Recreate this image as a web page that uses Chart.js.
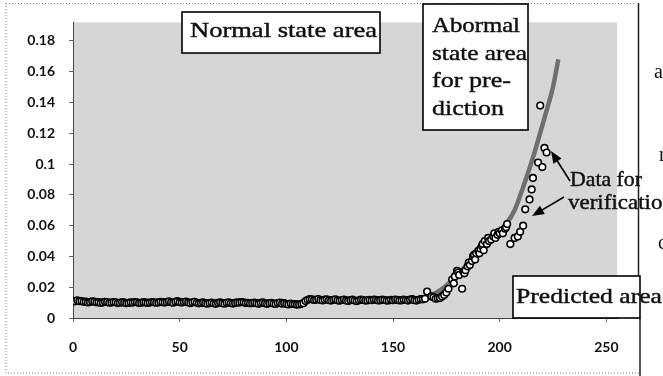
<!DOCTYPE html>
<html>
<head>
<meta charset="utf-8">
<script src="https://cdn.jsdelivr.net/npm/chart.js@4/dist/chart.umd.min.js"></script>
<style>
  html, body { margin: 0; padding: 0; background: #fff; }
  canvas { display: block; }
</style>
</head>
<body>
<canvas id="trendChart" width="663" height="376"></canvas>
<script>
// tick labels
const xTicks = [0, 50, 100, 150, 200, 250];
const yTicks = [0, 0.02, 0.04, 0.06, 0.08, 0.1, 0.12, 0.14, 0.16, 0.18];

// measured data, normal state (flat part)
const normalX = [0, 1, 2, 3, 4, 5, 6, 7, 8, 9, 10, 11, 12, 13, 14, 15, 16, 17, 18, 19,
  20, 21, 22, 23, 24, 25, 26, 27, 28, 29, 30, 31, 32, 33, 34, 35, 36, 37, 38, 39,
  40, 41, 42, 43, 44, 45, 46, 47, 48, 49, 50, 51, 52, 53, 54, 55, 56, 57, 58, 59,
  60, 61, 62, 63, 64, 65, 66, 67, 68, 69, 70, 71, 72, 73, 74, 75, 76, 77, 78, 79,
  80, 81, 82, 83, 84, 85, 86, 87, 88, 89, 90, 91, 92, 93, 94, 95, 96, 97, 98, 99,
  100, 101, 102, 103, 104, 105, 106, 107, 108, 109, 110, 111, 112, 113, 114, 115, 116, 117, 118, 119,
  120, 121, 122, 123, 124, 125, 126, 127, 128, 129, 130, 131, 132, 133, 134, 135, 136, 137, 138, 139,
  140, 141, 142, 143, 144, 145, 146, 147, 148, 149, 150, 151, 152, 153, 154, 155, 156, 157, 158, 159,
  160, 161, 162, 163, 164, 165];
const normalY = [0.0112, 0.0108, 0.0115, 0.0109, 0.0110, 0.0105, 0.0106, 0.0101, 0.0104, 0.0108,
  0.0107, 0.0102, 0.0103, 0.0098, 0.0101, 0.0105, 0.0104, 0.0099, 0.0100, 0.0104,
  0.0102, 0.0097, 0.0099, 0.0103, 0.0101, 0.0096, 0.0098, 0.0102, 0.0100, 0.0104,
  0.0102, 0.0097, 0.0099, 0.0103, 0.0101, 0.0098, 0.0100, 0.0104, 0.0102, 0.0099,
  0.0101, 0.0105, 0.0103, 0.0100, 0.0104, 0.0108, 0.0102, 0.0099, 0.0105, 0.0109,
  0.0103, 0.0100, 0.0104, 0.0107, 0.0101, 0.0097, 0.0102, 0.0105, 0.0099, 0.0095,
  0.0098, 0.0101, 0.0096, 0.0093, 0.0097, 0.0100, 0.0095, 0.0092, 0.0098, 0.0101,
  0.0096, 0.0093, 0.0099, 0.0102, 0.0097, 0.0094, 0.0098, 0.0101, 0.0100, 0.0104,
  0.0102, 0.0098, 0.0099, 0.0095, 0.0097, 0.0100, 0.0096, 0.0092, 0.0098, 0.0101,
  0.0095, 0.0092, 0.0096, 0.0099, 0.0094, 0.0091, 0.0097, 0.0100, 0.0093, 0.0096,
  0.0091, 0.0088, 0.0094, 0.0091, 0.0090, 0.0087, 0.0088, 0.0092, 0.0096, 0.0110,
  0.0118, 0.0122, 0.0121, 0.0117, 0.0119, 0.0123, 0.0117, 0.0114, 0.0119, 0.0121,
  0.0116, 0.0113, 0.0118, 0.0121, 0.0115, 0.0112, 0.0117, 0.0120, 0.0114, 0.0111,
  0.0116, 0.0119, 0.0113, 0.0110, 0.0115, 0.0119, 0.0117, 0.0113, 0.0114, 0.0118,
  0.0116, 0.0120, 0.0118, 0.0114, 0.0115, 0.0119, 0.0117, 0.0113, 0.0114, 0.0118,
  0.0116, 0.0120, 0.0118, 0.0114, 0.0115, 0.0119, 0.0117, 0.0113, 0.0119, 0.0122,
  0.0116, 0.0113, 0.0118, 0.0122, 0.0121, 0.0125];

// rising part
const riseX = [166, 168, 169, 170, 171, 172, 173, 174, 175, 176, 177.7, 178.5, 179, 180, 180.5, 181,
  182.4, 183, 183.5, 184, 185, 185.5, 186, 187, 187.5, 188, 188.5, 189, 190, 190.5, 191, 191.7, 192,
  192.5, 193, 194, 194.6, 195, 196, 197, 197.5, 198, 199, 199.5, 200, 201, 201.5, 202.5, 203, 203.5];
const riseY = [0.0172, 0.0140, 0.0135, 0.0125, 0.0128, 0.0130, 0.0140, 0.0150, 0.0165, 0.0190, 0.0250,
  0.0225, 0.0270, 0.0307, 0.0295, 0.0280, 0.0190, 0.0300, 0.0290, 0.0310, 0.0335, 0.0360, 0.0344,
  0.0370, 0.0400, 0.0410, 0.0380, 0.0420, 0.0436, 0.0420, 0.0450, 0.0467, 0.0480, 0.0440, 0.0500,
  0.0480, 0.0520, 0.0500, 0.0510, 0.0530, 0.0550, 0.0520, 0.0540, 0.0560, 0.0550, 0.0570, 0.0550,
  0.0580, 0.0590, 0.0610];

// data for verification
const verifyX = [205, 207, 208.5, 209.6, 211, 212, 214, 215, 215.6, 218, 220, 221, 222, 219];
const verifyY = [0.048, 0.052, 0.053, 0.056, 0.060, 0.0706, 0.077, 0.0835, 0.091, 0.101, 0.098, 0.1105, 0.1075, 0.138];

// prediction curve
const curveX = [0, 40, 80, 106, 109, 140, 164, 169, 174, 178, 184, 191, 198, 203, 207, 211, 216, 221, 225, 227.5];
const curveY = [0.0107, 0.0103, 0.0099, 0.0092, 0.0114, 0.0116, 0.0122, 0.0154, 0.0200, 0.0250, 0.0335,
  0.0436, 0.0530, 0.0610, 0.0700, 0.0850, 0.1060, 0.1300, 0.1500, 0.1680];

const pts = (xs, ys) => xs.map((x, i) => ({ x: x, y: ys[i] }));
const circles = pts(normalX, normalY).concat(pts(riseX, riseY), pts(verifyX, verifyY));

const SERIF = '"Liberation Serif", "Times New Roman", serif';

// text stretched to a target width, like the scanned original
function fitText(ctx, str, x, y, w) {
  ctx.save();
  const m = ctx.measureText(str).width;
  ctx.translate(x, y);
  ctx.scale(w / m, 1);
  ctx.fillText(str, 0, 0);
  ctx.lineWidth = 0.45;
  ctx.strokeText(str, 0, 0);
  ctx.restore();
}

function arrow(ctx, x1, y1, x2, y2) {
  const a = Math.atan2(y2 - y1, x2 - x1);
  ctx.beginPath();
  ctx.moveTo(x1, y1);
  ctx.lineTo(x2 - 8 * Math.cos(a), y2 - 8 * Math.sin(a));
  ctx.stroke();
  ctx.beginPath();
  ctx.moveTo(x2, y2);
  ctx.lineTo(x2 - 13 * Math.cos(a - 0.38), y2 - 13 * Math.sin(a - 0.38));
  ctx.lineTo(x2 - 13 * Math.cos(a + 0.38), y2 - 13 * Math.sin(a + 0.38));
  ctx.closePath();
  ctx.fill();
}

const backdrop = {
  id: 'backdrop',
  beforeDraw(chart) {
    const { ctx, chartArea: a } = chart;
    ctx.save();
    ctx.fillStyle = '#fff';
    ctx.fillRect(0, 0, chart.width, chart.height);
    ctx.fillStyle = '#d6d6d6';
    ctx.fillRect(a.left, a.top, a.right - a.left, a.bottom - a.top);
    ctx.restore();
  }
};

const notes = {
  id: 'notes',
  afterDraw(chart) {
    const ctx = chart.ctx;
    ctx.save();

    // outer frame of the scan
    ctx.strokeStyle = '#777';
    ctx.lineWidth = 1;
    ctx.setLineDash([1, 2]);
    ctx.beginPath();
    ctx.moveTo(6, 3); ctx.lineTo(6, 373); ctx.lineTo(640, 373);
    ctx.moveTo(6, 3.5); ctx.lineTo(636, 3.5);
    ctx.stroke();
    ctx.setLineDash([]);
    ctx.strokeStyle = '#222';
    ctx.lineWidth = 1.5;
    ctx.beginPath();
    ctx.moveTo(638.5, 3); ctx.lineTo(638.5, 276);
    ctx.moveTo(640, 318); ctx.lineTo(640, 376);
    ctx.stroke();

    // boxes
    ctx.fillStyle = '#fff';
    ctx.strokeStyle = '#000';
    ctx.lineWidth = 1.6;
    [[182, 12, 198, 41], [423, 4, 105, 126], [513, 276, 127, 42]].forEach(b => {
      ctx.fillRect(b[0], b[1], b[2], b[3]);
      ctx.strokeRect(b[0], b[1], b[2], b[3]);
    });

    ctx.fillStyle = '#111';
    ctx.strokeStyle = '#111';
    ctx.font = '22px ' + SERIF;
    ctx.textBaseline = 'alphabetic';
    fitText(ctx, 'Normal state area', 190, 37, 187);
    fitText(ctx, 'Abormal', 432, 32, 88);
    fitText(ctx, 'state area', 432, 60, 95);
    fitText(ctx, 'for pre-', 432, 87, 79);
    fitText(ctx, 'diction', 432, 115, 72);
    fitText(ctx, 'Data for', 570, 186, 72);
    fitText(ctx, 'verification', 568, 209, 106);
    fitText(ctx, 'Predicted area', 516, 303, 146);

    // fragments of the neighbouring page text
    ctx.font = '20px ' + SERIF;
    ctx.fillText('a', 654, 78);
    ctx.fillText('r', 659, 161);
    ctx.fillText('c', 658, 249);

    ctx.strokeStyle = '#000';
    ctx.fillStyle = '#000';
    ctx.lineWidth = 1.6;
    arrow(ctx, 570, 181, 551, 151);
    arrow(ctx, 564, 197, 532, 216);
    ctx.restore();
  }
};

const tickFont = { family: 'Lato, "Open Sans", sans-serif', size: 14, weight: 'bold' };

new Chart(document.getElementById('trendChart'), {
  type: 'scatter',
  data: {
    datasets: [
      {
        data: circles,
        pointStyle: 'circle',
        pointRadius: 3.3,
        borderColor: '#000',
        backgroundColor: '#fff',
        borderWidth: 1.6,
        order: 0
      },
      {
        type: 'line',
        data: pts(curveX, curveY),
        borderColor: '#6f6f6f',
        borderWidth: 4.5,
        pointRadius: 0,
        fill: false,
        cubicInterpolationMode: 'monotone',
        order: 1
      }
    ]
  },
  options: {
    responsive: false,
    animation: false,
    layout: { padding: { left: 0, top: 5, right: 46, bottom: 0 } },
    plugins: { legend: { display: false }, tooltip: { enabled: false } },
    scales: {
      x: {
        type: 'linear',
        min: 0,
        max: 255,
        afterBuildTicks: s => { s.ticks = xTicks.map(v => ({ value: v })); },
        afterFit: s => { s.height = 58; },
        ticks: { font: tickFont, color: '#111', padding: 17, maxRotation: 0, autoSkip: false },
        grid: { drawOnChartArea: false, drawTicks: true, tickLength: 4, color: '#666' },
        border: { display: true, color: '#444', dash: [1, 1] }
      },
      y: {
        min: 0,
        max: 0.192,
        afterBuildTicks: s => { s.ticks = yTicks.map(v => ({ value: v })); },
        afterFit: s => { s.width = 73; },
        ticks: {
          font: tickFont, color: '#111', padding: 14, autoSkip: false,
          callback: v => String(+v.toFixed(2))
        },
        grid: { drawOnChartArea: false, drawTicks: true, tickLength: 4, color: '#666' },
        border: { display: true, color: '#444', dash: [1, 1] }
      }
    }
  },
  plugins: [backdrop, notes]
});
</script>
</body>
</html>
